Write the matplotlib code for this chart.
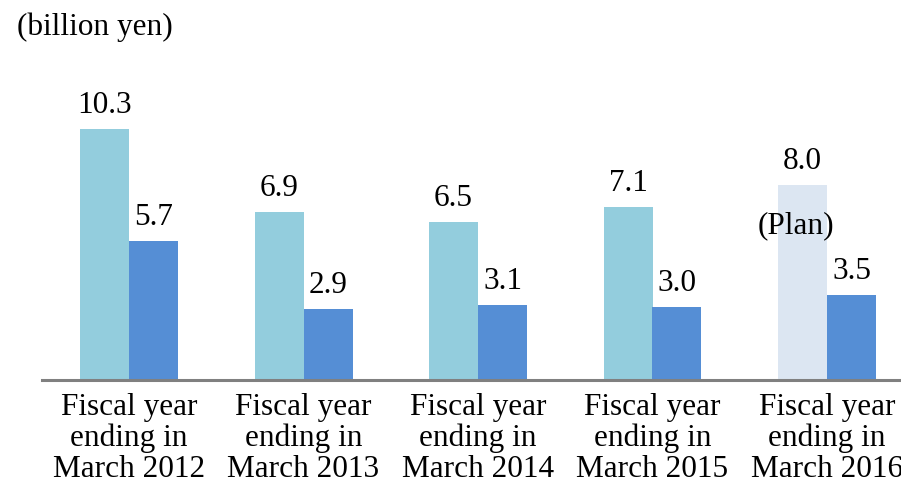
import matplotlib
matplotlib.use("Agg")
import matplotlib.pyplot as plt
import numpy as np

plt.rcParams["font.family"] = ["Liberation Serif", "DejaVu Serif"]

categories = [
    "Fiscal year\nending in\nMarch 2012",
    "Fiscal year\nending in\nMarch 2013",
    "Fiscal year\nending in\nMarch 2014",
    "Fiscal year\nending in\nMarch 2015",
    "Fiscal year\nending in\nMarch 2016",
]
series_a = [10.3, 6.9, 6.5, 7.1, 8.0]
series_b = [5.7, 2.9, 3.1, 3.0, 3.5]
is_plan = [False, False, False, False, True]

color_a = "#93CDDD"
color_a_plan = "#DCE6F2"
color_b = "#558ED5"

W, H, DPI = 901, 480, 100
fig = plt.figure(figsize=(W / DPI, H / DPI), dpi=DPI)

# axes: baseline 100 px above the bottom, starting 42 px from the left
ax = fig.add_axes([42 / W, 100 / H, 1 - 42 / W, 380 / H])

group_px = 174.5
bar_w = 49 / group_px
x = np.arange(len(categories))

cols_a = [color_a_plan if p else color_a for p in is_plan]
bars_a = ax.bar(x - bar_w / 2, series_a, width=bar_w, color=cols_a, linewidth=0)
bars_b = ax.bar(x + bar_w / 2, series_b, width=bar_w, color=color_b, linewidth=0)

ax.set_xlim((42 - 129) / group_px, (901 - 129) / group_px)
ax.set_ylim(0, 380 / 24.35)

fs = 22.5
for bars, vals in ((bars_a, series_a), (bars_b, series_b)):
    for rect, v in zip(bars, vals):
        ax.annotate(f"{v:.1f}", (rect.get_x() + rect.get_width() / 2, v),
                    xytext=(0, 11.5), textcoords="offset points",
                    ha="center", va="baseline", fontsize=fs, color="black")

for rect, v, p in zip(bars_a, series_a, is_plan):
    if p:
        ax.annotate("(Plan)", (rect.get_x() + rect.get_width() / 2, v),
                    xytext=(-5, -34.6), textcoords="offset points",
                    ha="center", va="baseline", fontsize=fs, color="black")

for side in ("top", "left", "right"):
    ax.spines[side].set_visible(False)
ax.spines["bottom"].set_color("#808080")
ax.spines["bottom"].set_linewidth(2.2)
ax.set_yticks([])
ax.set_xticks(x)
ax.set_xticklabels(categories, fontsize=fs, linespacing=1.07)
ax.tick_params(axis="x", length=0, pad=9.5)

fig.text(17 / W, 1 - 35 / H, "(billion yen)", fontsize=fs, ha="left", va="baseline")

fig.savefig("out.png", dpi=DPI)
